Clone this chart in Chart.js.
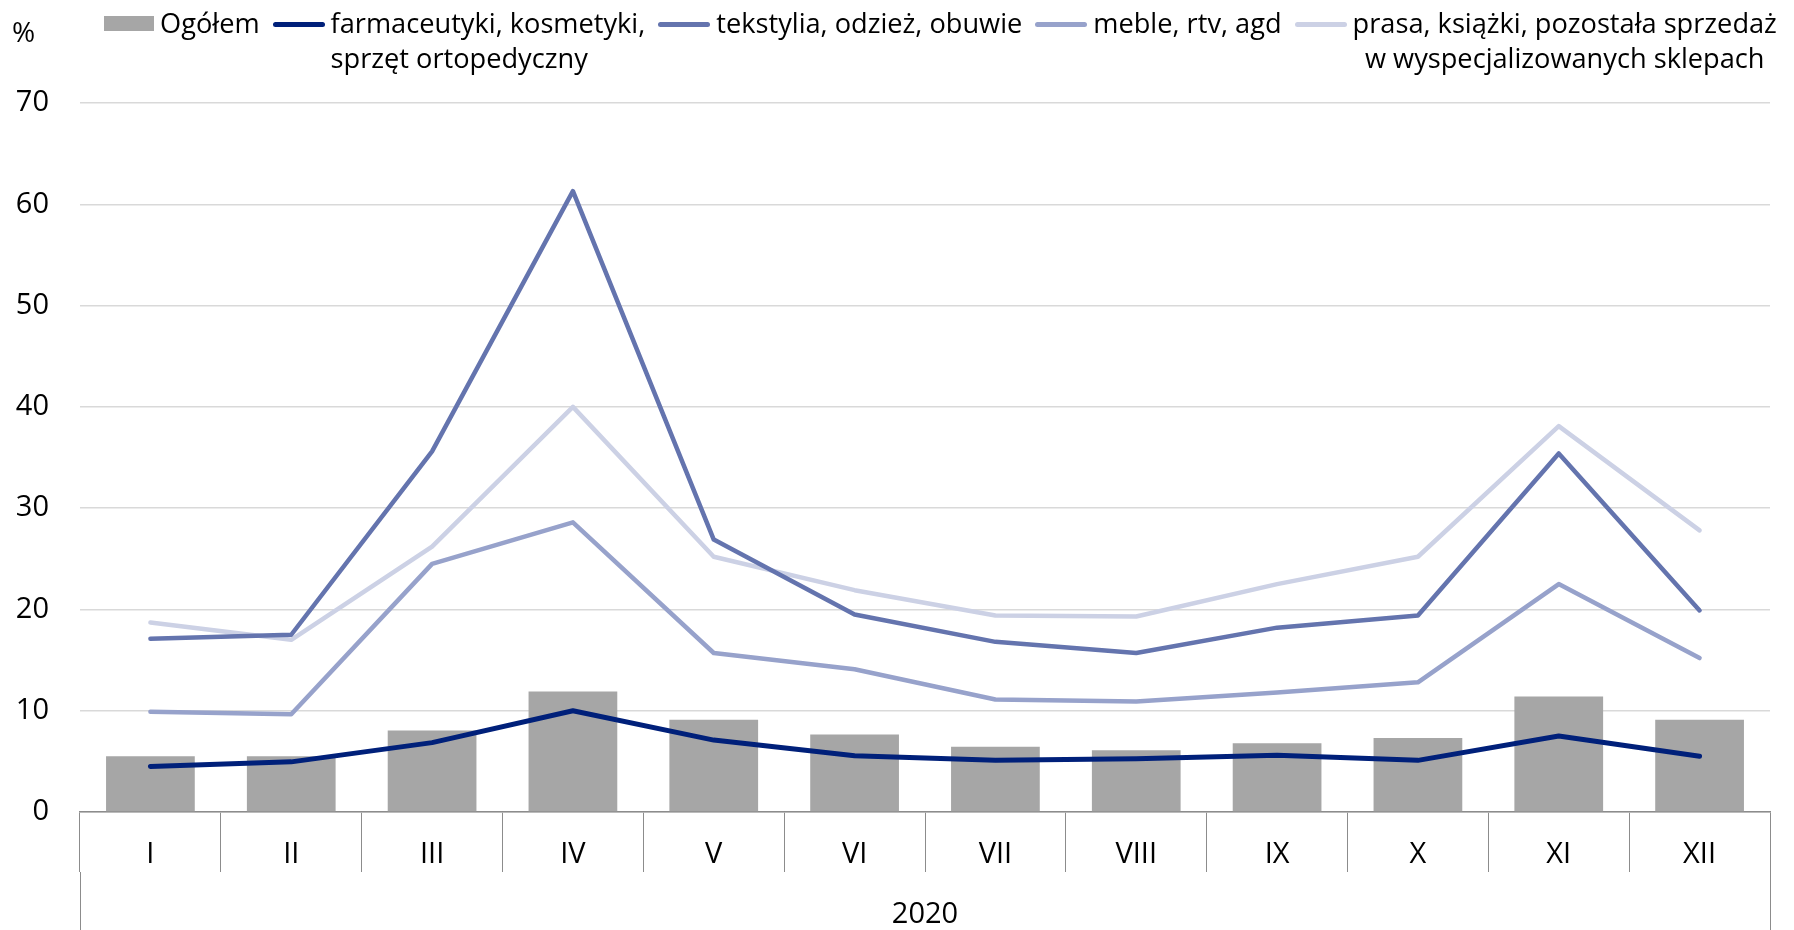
<!DOCTYPE html>
<html lang="pl">
<head>
<meta charset="utf-8">
<title>Sprzedaż detaliczna 2020</title>
<script src="https://cdn.jsdelivr.net/npm/chart.js@4.4.1/dist/chart.umd.min.js"></script>
<style>
	html, body { margin: 0; padding: 0; background: #fff; }
	.wrap { position: relative; width: 1794px; height: 930px; font-family: 'Open Sans', sans-serif; color: #000; }
	canvas { position: absolute; left: 0; top: 0; }
	.unit { position: absolute; left: 12px; top: 14px; font-size: 28px; line-height: 34px; }
	.legend { position: absolute; left: 104px; top: 5px; display: flex; align-items: flex-start; gap: 13px; font-size: 27.2px; line-height: 35px; white-space: nowrap; }
	.legend .item { display: flex; align-items: flex-start; gap: 6px; }
	.legend .mark { flex: none; }
	.legend .box { width: 50px; height: 15px; margin-top: 11px; }
	.legend .line { width: 52px; height: 5px; border-radius: 3px; margin-top: 17px; }
	.legend .text.center { text-align: center; }
</style>
</head>
<body>
<div class="wrap">
	<canvas id="chart" width="1794" height="930"></canvas>
	<div class="unit">%</div>
	<div class="legend" id="legend"></div>
</div>
<script>
// kategorie osi X
const months = ['I', 'II', 'III', 'IV', 'V', 'VI', 'VII', 'VIII', 'IX', 'X', 'XI', 'XII'];
const years = ['2020'];

// serie (%)
const ogolem = [5.5, 5.5, 8.05, 11.9, 9.1, 7.65, 6.45, 6.1, 6.8, 7.3, 11.4, 9.1];
const farmacja = [4.5, 4.95, 6.85, 10.0, 7.1, 5.55, 5.1, 5.25, 5.6, 5.1, 7.5, 5.5];
const tekstylia = [17.1, 17.5, 35.6, 61.3, 26.9, 19.5, 16.8, 15.7, 18.2, 19.4, 35.4, 19.9];
const meble = [9.9, 9.65, 24.5, 28.6, 15.7, 14.1, 11.1, 10.9, 11.8, 12.8, 22.5, 15.2];
const prasa = [18.7, 17.0, 26.2, 40.0, 25.2, 21.9, 19.4, 19.3, 22.5, 25.2, 38.1, 27.8];

// oś Y
const yMin = 0;
const yMax = 70;
const yStep = 10;

// nazwy serii (legenda)
const seriesNames = [
	['Ogółem'],
	['farmaceutyki, kosmetyki,', 'sprzęt ortopedyczny'],
	['tekstylia, odzież, obuwie'],
	['meble, rtv, agd'],
	['prasa, książki, pozostała sprzedaż', 'w wyspecjalizowanych sklepach']
];

const colors = {
	bar: '#a6a6a6',
	farm: '#00207a',
	tekst: '#6474ae',
	meble: '#97a2cb',
	prasa: '#ccd1e5',
	grid: '#d9d9d9',
	axis: '#8c8c8c'
};

const FONT = "'Open Sans', sans-serif";

const lineStyle = {
	type: 'line',
	pointRadius: 0,
	pointHoverRadius: 0,
	tension: 0,
	borderWidth: 4.5,
	borderCapStyle: 'round',
	borderJoinStyle: 'round',
	fill: false
};

const datasets = [
	{ type: 'bar', label: seriesNames[0].join(' '), data: ogolem, backgroundColor: colors.bar, barPercentage: 0.63, categoryPercentage: 1, order: 10 },
	Object.assign({}, lineStyle, { label: seriesNames[1].join(' '), data: farmacja, borderColor: colors.farm, borderWidth: 5, order: 1 }),
	Object.assign({}, lineStyle, { label: seriesNames[2].join(' '), data: tekstylia, borderColor: colors.tekst, order: 2 }),
	Object.assign({}, lineStyle, { label: seriesNames[3].join(' '), data: meble, borderColor: colors.meble, order: 3 }),
	Object.assign({}, lineStyle, { label: seriesNames[4].join(' '), data: prasa, borderColor: colors.prasa, order: 4 })
];

const chart = new Chart(document.getElementById('chart'), {
	data: {
		labels: months,
		datasets: datasets
	},
	options: {
		responsive: false,
		animation: false,
		layout: {
			padding: { top: 103, right: 24, bottom: 0, left: 0 }
		},
		plugins: {
			legend: { display: false },
			tooltip: { enabled: false }
		},
		scales: {
			x: {
				type: 'category',
				position: 'bottom',
				offset: true,
				grid: {
					offset: true,
					drawOnChartArea: false,
					drawTicks: true,
					tickLength: 60,
					color: colors.axis,
					lineWidth: 1
				},
				border: { display: true, color: colors.axis, width: 1.5 },
				ticks: {
					color: '#000',
					font: { family: FONT, size: 29 },
					padding: -34.5,
					maxRotation: 0,
					autoSkip: false
				},
				afterFit: (scale) => { scale.height = 60; }
			},
			x2: {
				type: 'category',
				position: 'bottom',
				labels: years,
				offset: true,
				grid: {
					offset: true,
					drawOnChartArea: false,
					drawTicks: true,
					tickLength: 58,
					color: colors.axis,
					lineWidth: 1
				},
				border: { display: false },
				ticks: {
					color: '#000',
					font: { family: FONT, size: 29 },
					padding: -33,
					maxRotation: 0
				},
				afterFit: (scale) => { scale.height = 58; }
			},
			y: {
				min: yMin,
				max: yMax,
				grid: {
					color: colors.grid,
					lineWidth: 1.5,
					drawTicks: false
				},
				border: { display: false },
				ticks: {
					stepSize: yStep,
					color: '#000',
					font: { family: FONT, size: 29 },
					padding: 31
				},
				afterFit: (scale) => { scale.width = 80; }
			}
		}
	}
});

// legenda HTML (dwuwierszowe etykiety jak w oryginale)
const legendEl = document.getElementById('legend');
datasets.forEach((ds, i) => {
	const item = document.createElement('div');
	item.className = 'item';
	const mark = document.createElement('div');
	if (ds.type === 'bar') {
		mark.className = 'mark box';
		mark.style.background = ds.backgroundColor;
	} else {
		mark.className = 'mark line';
		mark.style.background = ds.borderColor;
	}
	const text = document.createElement('div');
	text.className = 'text' + (i === 4 ? ' center' : '');
	text.innerHTML = seriesNames[i].join('<br>');
	item.appendChild(mark);
	item.appendChild(text);
	legendEl.appendChild(item);
});
</script>
</body>
</html>
